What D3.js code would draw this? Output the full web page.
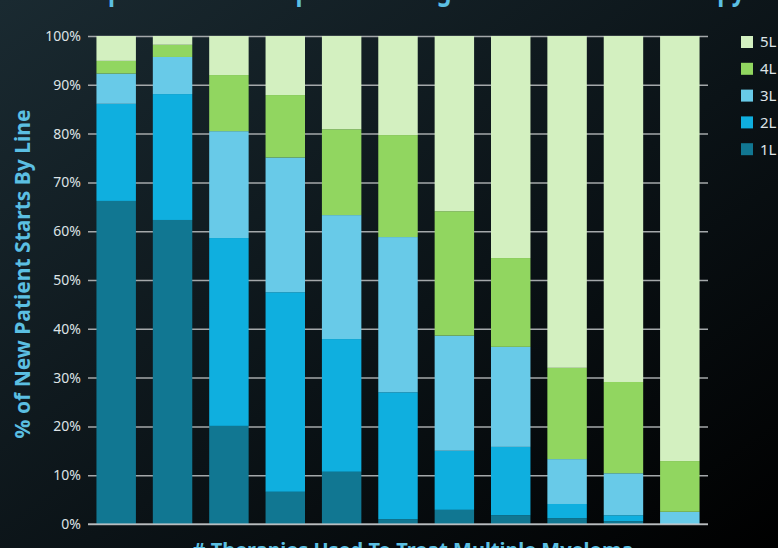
<!DOCTYPE html>
<html>
<head>
<meta charset="utf-8">
<script src="https://cdn.jsdelivr.net/npm/d3@7"></script>
<style>
  html, body { margin: 0; padding: 0; background: #000; }
  svg { display: block; }
  .tick text { font-family: "Noto Sans", sans-serif; font-size: 14px; fill: #dde3e6; }
</style>
</head>
<body>
<script>
// one bar per entry, lines 1L..5L stacked bottom to top
var bars = ["1", "2", "3", "4", "5", "6", "7", "8", "9", "10", "11"];
var lines = ["1L", "2L", "3L", "4L", "5L"];
var line1 = [66.2, 62.3, 20.1, 6.6, 10.7, 1.0, 2.9, 1.8, 1.2, 0.6, 0.0];
var line2 = [19.9, 25.8, 38.5, 40.9, 27.2, 26.0, 12.1, 14.0, 2.9, 1.2, 0.0];
var line3 = [6.2, 7.6, 21.9, 27.6, 25.4, 31.8, 23.6, 20.5, 9.2, 8.6, 2.5];
var line4 = [2.6, 2.5, 11.5, 12.8, 17.6, 20.9, 25.5, 18.2, 18.7, 18.7, 10.4];
var line5 = [5.1, 1.8, 8.0, 12.1, 19.1, 20.3, 35.9, 45.5, 68.0, 70.9, 87.1];
var yTicks = [0, 10, 20, 30, 40, 50, 60, 70, 80, 90, 100];
var colors = ["#117792", "#0fafdf", "#68cae8", "#91d660", "#d3f0c0"];

var W = 778, H = 548;
var plotLeft = 88, plotRight = 708, plotTop = 36, plotBottom = 524;

// build rows for d3.stack
var rows = bars.map(function(b, i) {
    return { bar: b, "1L": line1[i], "2L": line2[i], "3L": line3[i], "4L": line4[i], "5L": line5[i] };
});

var svg = d3.select("body").append("svg")
    .attr("width", W)
    .attr("height", H);

// background gradient
var defs = svg.append("defs");
var grad = defs.append("linearGradient")
    .attr("id", "bg")
    .attr("x1", "0").attr("y1", "0")
    .attr("x2", "1").attr("y2", "1");
grad.append("stop").attr("offset", "0").attr("stop-color", "#1a2a31");
grad.append("stop").attr("offset", "0.55").attr("stop-color", "#0b1317");
grad.append("stop").attr("offset", "1").attr("stop-color", "#000000");

svg.append("rect")
    .attr("width", W)
    .attr("height", H)
    .attr("fill", "url(#bg)");

var x = d3.scaleBand()
    .domain(bars)
    .range([plotLeft, plotRight])
    .paddingInner(0.3)
    .paddingOuter(0.15);

var y = d3.scaleLinear()
    .domain([0, 100])
    .range([plotBottom, plotTop]);

// gridlines + tick labels
var yAxis = d3.axisLeft(y)
    .tickValues(yTicks)
    .tickFormat(function(d) { return d + "%"; })
    .tickSizeInner(-(plotRight - plotLeft))
    .tickSizeOuter(0)
    .tickPadding(7);

var gAxis = svg.append("g")
    .attr("transform", "translate(" + plotLeft + ",0)")
    .call(yAxis);
gAxis.select(".domain").remove();
gAxis.selectAll(".tick line")
    .attr("stroke", "#a4a8aa")
    .attr("stroke-width", 1.5);

// stacked bars
var stack = d3.stack().keys(lines);
var series = stack(rows);

svg.append("g")
    .selectAll("g")
    .data(series)
    .enter().append("g")
    .attr("fill", function(d, i) { return colors[i]; })
    .selectAll("rect")
    .data(function(d) { return d; })
    .enter().append("rect")
    .attr("x", function(d) { return x(d.data.bar); })
    .attr("width", x.bandwidth())
    .attr("y", function(d) { return y(d[1]); })
    .attr("height", function(d) { return y(d[0]) - y(d[1]); });

// baseline on top of bars
svg.append("line")
    .attr("x1", plotLeft).attr("x2", plotRight)
    .attr("y1", y(0)).attr("y2", y(0))
    .attr("stroke", "#c8cccd")
    .attr("stroke-opacity", 0.55)
    .attr("stroke-width", 2);

// legend, top entry is 5L
var legend = svg.append("g")
    .selectAll("g")
    .data(lines.slice().reverse())
    .enter().append("g")
    .attr("transform", function(d, i) { return "translate(741," + (36 + i * 26.8) + ")"; });

legend.append("rect")
    .attr("width", 12)
    .attr("height", 12)
    .attr("fill", function(d) { return colors[lines.indexOf(d)]; });

legend.append("text")
    .text(function(d) { return d; })
    .attr("x", 19)
    .attr("y", 6)
    .attr("dy", "0.36em")
    .style("font-family", "'Noto Sans', sans-serif")
    .style("font-size", "15px")
    .style("fill", "#dde3e6");

// y axis title
svg.append("text")
    .text("% of New Patient Starts By Line")
    .attr("transform", "translate(30,274) rotate(-90)")
    .attr("text-anchor", "middle")
    .style("font-family", "'Noto Sans', sans-serif")
    .style("font-weight", "bold")
    .style("font-size", "21px")
    .style("fill", "#5bbfe2");

// chart title, mostly cut off by the top edge
svg.append("text")
    .text("Split of Each Compound's Usage Across Lines of Therapy")
    .attr("x", 95)
    .attr("y", 0)
    .attr("textLength", 650)
    .attr("lengthAdjust", "spacingAndGlyphs")
    .style("font-family", "'Noto Sans', sans-serif")
    .style("font-weight", "bold")
    .style("font-size", "28px")
    .style("fill", "#5bbfe2");

// x axis title, cut off by the bottom edge
svg.append("text")
    .text("# Therapies Used To Treat Multiple Myeloma")
    .attr("x", 413)
    .attr("y", 557)
    .attr("text-anchor", "middle")
    .style("font-family", "'Noto Sans', sans-serif")
    .style("font-weight", "bold")
    .style("font-size", "20px")
    .style("fill", "#5bbfe2");
</script>
</body>
</html>
